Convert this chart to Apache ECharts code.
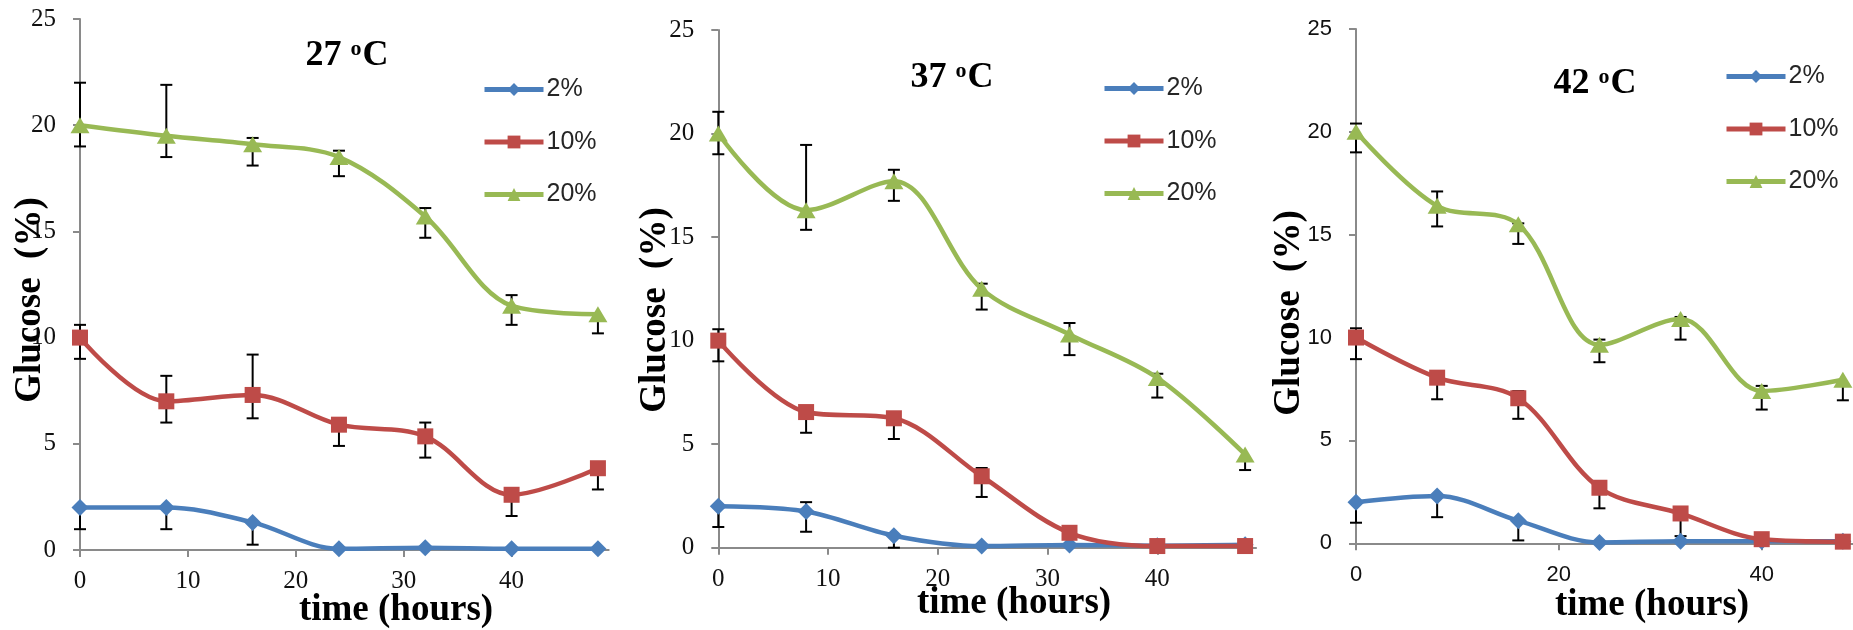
<!DOCTYPE html>
<html>
<head>
<meta charset="utf-8">
<script src="https://cdn.jsdelivr.net/npm/echarts@6/dist/echarts.min.js"></script>
<style>
  html, body { margin: 0; padding: 0; background: #fff; }
  #chart { width: 1853px; height: 630px; }
</style>
</head>
<body>
<div id="chart"></div>
<script>
// ---------- data ----------
const times = [0, 8, 16, 24, 32, 40, 48];
const seriesNames = ['2%', '10%', '20%'];
const panelTemps = ['27', '37', '42'];

// 27 oC
const g27_2    = [2.0, 2.0, 1.3, 0.06, 0.11, 0.06, 0.06];
const g27_2_hi = [2.0, 2.0, 1.3, 0.06, 0.11, 0.06, 0.06];
const g27_2_lo = [0.98, 0.98, 0.25, 0.06, 0.11, 0.06, 0.06];
const g27_10    = [10.0, 7.0, 7.3, 5.9, 5.35, 2.6, 3.85];
const g27_10_hi = [10.6, 8.2, 9.2, 5.9, 6.0, 2.6, 3.85];
const g27_10_lo = [9.0, 6.0, 6.2, 4.9, 4.35, 1.6, 2.85];
const g27_20    = [20.0, 19.5, 19.1, 18.5, 15.7, 11.5, 11.1];
const g27_20_hi = [22.0, 21.9, 19.4, 18.8, 16.1, 12.0, 11.1];
const g27_20_lo = [19.0, 18.5, 18.1, 17.6, 14.7, 10.6, 10.2];

// 37 oC
const g37_2    = [2.0, 1.75, 0.58, 0.08, 0.13, 0.1, 0.14];
const g37_2_hi = [2.0, 2.2, 0.58, 0.08, 0.13, 0.1, 0.14];
const g37_2_lo = [1.0, 0.77, 0.0, 0.08, 0.13, 0.1, 0.14];
const g37_10    = [10.0, 6.55, 6.25, 3.45, 0.72, 0.08, 0.08];
const g37_10_hi = [10.55, 6.55, 6.25, 3.85, 0.72, 0.08, 0.08];
const g37_10_lo = [9.0, 5.55, 5.25, 2.45, 0.72, 0.08, 0.08];
const g37_20    = [20.0, 16.3, 17.7, 12.5, 10.3, 8.2, 4.5];
const g37_20_hi = [21.05, 19.45, 18.25, 12.75, 10.85, 8.4, 4.5];
const g37_20_lo = [19.0, 15.35, 16.75, 11.5, 9.3, 7.25, 3.75];

// 42 oC
const g42_2    = [2.0, 2.3, 1.1, 0.04, 0.1, 0.1, 0.1];
const g42_2_hi = [2.0, 2.3, 1.1, 0.04, 0.1, 0.1, 0.1];
const g42_2_lo = [1.0, 1.27, 0.14, 0.04, 0.1, 0.1, 0.1];
const g42_10    = [10.0, 8.05, 7.05, 2.7, 1.45, 0.2, 0.08];
const g42_10_hi = [10.45, 8.05, 7.4, 2.7, 1.45, 0.2, 0.08];
const g42_10_lo = [8.95, 7.0, 6.05, 1.7, 0.35, 0.2, 0.08];
const g42_20    = [20.0, 16.4, 15.5, 9.65, 10.9, 7.4, 7.95];
const g42_20_hi = [20.4, 17.1, 15.55, 9.9, 11.0, 7.65, 7.95];
const g42_20_lo = [19.0, 15.4, 14.55, 8.8, 9.9, 6.5, 6.95];

// ---------- build ----------
const panels = [
  { vals: [g27_2, g27_10, g27_20], hi: [g27_2_hi, g27_10_hi, g27_20_hi], lo: [g27_2_lo, g27_10_lo, g27_20_lo] },
  { vals: [g37_2, g37_10, g37_20], hi: [g37_2_hi, g37_10_hi, g37_20_hi], lo: [g37_2_lo, g37_10_lo, g37_20_lo] },
  { vals: [g42_2, g42_10, g42_20], hi: [g42_2_hi, g42_10_hi, g42_20_hi], lo: [g42_2_lo, g42_10_lo, g42_20_lo] }
];

const colors = ['#4A7EBB', '#BE4B48', '#98B954'];
const symbols = ['diamond', 'rect', 'triangle'];
const symbolSizes = [17, 16, [19, 16]];

const layout = [
  { grid: { left: 80, top: 19, width: 49 * 10.79, height: 531 }, xInt: 10, serif: true,
    title: [347, 56], ylab: [30, 300], xlab: [396, 610], legend: { left: 482, top: 77 } },
  { grid: { left: 718.3, top: 30, width: 49 * 10.975, height: 517.7 }, xInt: 10, serif: true,
    title: [952, 78], ylab: [655, 310], xlab: [1014, 603], legend: { left: 1102, top: 76 } },
  { grid: { left: 1356, top: 28.9, width: 49 * 10.2, height: 514.4 }, xInt: 20, serif: false,
    title: [1595, 84], ylab: [1289, 313], xlab: [1652, 605], legend: { left: 1724, top: 64 } }
];

const SERIF = '"Liberation Serif", "Times New Roman", serif';
const SANS = '"Liberation Sans", Arial, sans-serif';
const axisGray = '#8A8A8A';

const grids = [], xAxes = [], yAxes = [], series = [], legends = [], graphics = [];

layout.forEach((L, p) => {
  grids.push(Object.assign({ containLabel: false }, L.grid));
  const xTicks = [];
  for (let v = 0; v <= 40; v += L.xInt) xTicks.push(v);
  const tickFont = L.serif ? { fontFamily: SERIF, fontSize: 25 } : { fontFamily: SANS, fontSize: 22 };
  xAxes.push({
    type: 'value', gridIndex: p, min: 0, max: 49, interval: L.xInt,
    axisLine: { show: true, lineStyle: { color: axisGray, width: 2 } },
    axisTick: { show: true, inside: false, length: 7, customValues: xTicks, lineStyle: { color: axisGray, width: 2 } },
    axisLabel: Object.assign({ color: '#111', margin: L.serif ? 19 : 21, customValues: xTicks,
      formatter: v => (v % L.xInt === 0 ? String(v) : '') }, tickFont),
    splitLine: { show: false }
  });
  yAxes.push({
    type: 'value', gridIndex: p, min: 0, max: 25, interval: 5,
    axisLine: { show: true, lineStyle: { color: axisGray, width: 2 } },
    axisTick: { show: true, inside: false, length: 7, lineStyle: { color: axisGray, width: 2 } },
    axisLabel: Object.assign({ color: '#111', margin: 24 }, tickFont),
    splitLine: { show: false }
  });

  const P = panels[p];
  // error bars first (underneath)
  P.vals.forEach((vals, s) => {
    series.push({
      type: 'custom', xAxisIndex: p, yAxisIndex: p, z: 1, silent: true, clip: false,
      encode: { x: 0, y: [1, 2] },
      data: times.map((t, i) => [t, P.lo[s][i], P.hi[s][i], vals[i]]),
      renderItem: function (params, api) {
        const x = api.value(0), lo = api.value(1), hi = api.value(2), v = api.value(3);
        const a = api.coord([x, lo]), b = api.coord([x, hi]), c = api.coord([x, v]);
        const style = { stroke: '#000', lineWidth: 2 };
        const kids = [];
        if (lo < v) {
          kids.push({ type: 'line', shape: { x1: c[0], y1: c[1], x2: a[0], y2: a[1] }, style });
          kids.push({ type: 'line', shape: { x1: a[0] - 6, y1: a[1], x2: a[0] + 6, y2: a[1] }, style });
        }
        if (hi > v) {
          kids.push({ type: 'line', shape: { x1: c[0], y1: c[1], x2: b[0], y2: b[1] }, style });
          kids.push({ type: 'line', shape: { x1: b[0] - 6, y1: b[1], x2: b[0] + 6, y2: b[1] }, style });
        }
        return { type: 'group', children: kids };
      }
    });
  });
  P.vals.forEach((vals, s) => {
    series.push({
      name: seriesNames[s], type: 'line', xAxisIndex: p, yAxisIndex: p, z: 3,
      smooth: 0.34, clip: false,
      data: times.map((t, i) => [t, vals[i]]),
      symbol: symbols[s], symbolSize: symbolSizes[s], showSymbol: true,
      lineStyle: { color: colors[s], width: 4.5 },
      itemStyle: { color: colors[s] },
      emphasis: { disabled: true }
    });
  });

  legends.push({
    orient: 'vertical', left: L.legend.left, top: L.legend.top, padding: 0,
    itemWidth: 59, itemHeight: 16, itemGap: 27.5, align: 'left',
    data: seriesNames, selectedMode: false,
    lineStyle: { width: 5 },
    textStyle: { fontFamily: SANS, fontSize: 25, color: '#262626', padding: [0, 0, 0, -2] }
  });

  graphics.push({
    type: 'text', x: L.title[0], y: L.title[1], z: 10,
    style: {
      text: '{a|' + panelTemps[p] + ' }{s|o}{a|C}',
      textAlign: 'center', textVerticalAlign: 'middle',
      rich: {
        a: { fontFamily: SERIF, fontWeight: 'bold', fontSize: 36, fill: '#000', color: '#000' },
        s: { fontFamily: SERIF, fontWeight: 'bold', fontSize: 22, fill: '#000', color: '#000', verticalAlign: 'top', padding: [0, 1, 14, 0] }
      }
    }
  });
  graphics.push({
    type: 'text', x: L.ylab[0], y: L.ylab[1], rotation: Math.PI / 2, z: 10,
    style: { text: 'Glucose  (%)', fontFamily: SERIF, fontWeight: 'bold', fontSize: 37, fill: '#000',
      textAlign: 'center', textVerticalAlign: 'middle' }
  });
  graphics.push({
    type: 'text', x: L.xlab[0], y: L.xlab[1], z: 10,
    style: { text: 'time (hours)', fontFamily: SERIF, fontWeight: 'bold', fontSize: 37, fill: '#000',
      textAlign: 'center', textVerticalAlign: 'middle' }
  });
});

const chart = echarts.init(document.getElementById('chart'), null, { renderer: 'canvas' });
chart.setOption({
  backgroundColor: '#ffffff',
  animation: false,
  grid: grids,
  xAxis: xAxes,
  yAxis: yAxes,
  legend: legends,
  series: series,
  graphic: graphics
});
</script>
</body>
</html>
